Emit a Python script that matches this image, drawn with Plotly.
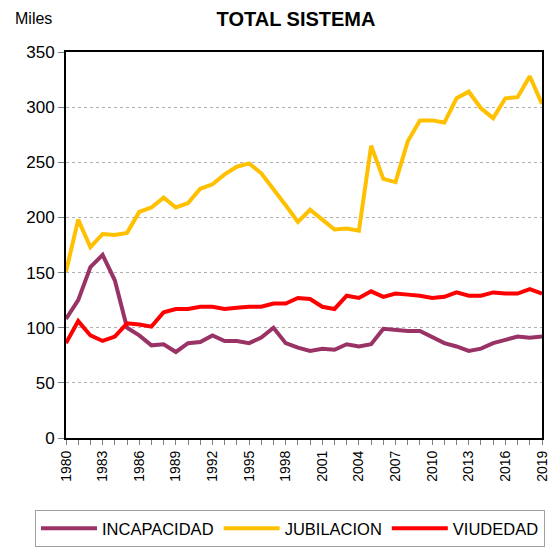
import plotly.graph_objects as go

years = list(range(1980, 2020))

incapacidad = [108, 125, 155, 166, 143, 100, 93, 84, 85, 78,
               86, 87, 93, 88, 88, 86, 91, 100, 86, 82,
               79, 81, 80, 85, 83, 85, 99, 98, 97, 97,
               91, 86, 83, 79, 81, 86, 89, 92, 91, 92]

jubilacion = [151, 198, 173, 185, 184, 186, 205, 209, 218, 209,
              213, 226, 230, 239, 246, 249, 240, 226, 211, 196,
              207, 198, 189, 190, 188, 265, 235, 232, 269, 288,
              288, 286, 308, 314, 299, 290, 308, 309, 328, 303]

viudedad = [86, 106, 93, 88, 92, 104, 103, 101, 114, 117,
            117, 119, 119, 117, 118, 119, 119, 122, 122, 127,
            126, 119, 117, 129, 127, 133, 128, 131, 130, 129,
            127, 128, 132, 129, 129, 132, 131, 131, 135, 131]

series = [
    ("INCAPACIDAD", incapacidad, "#993366"),
    ("JUBILACION", jubilacion, "#FFC000"),
    ("VIUDEDAD", viudedad, "#FF0000"),
]

fig = go.Figure()
for name, vals, color in series:
    fig.add_trace(go.Scatter(x=years, y=vals, name=name, mode="lines",
                             line=dict(color=color, width=4)))

font_family = "Liberation Sans, Arial, sans-serif"
W, H = 549, 556
L, R, T, B = 66, 7, 52, 118
plot_w = W - L - R
plot_h = H - T - B

fig.update_layout(
    width=W, height=H,
    margin=dict(l=L, r=R, t=T, b=B, autoexpand=False),
    paper_bgcolor="white", plot_bgcolor="white",
    font=dict(family=font_family, color="black"),
    title=dict(text="<b>TOTAL SISTEMA</b>", x=296 / W, xanchor="center",
               xref="container", y=1 - 19 / H, yanchor="middle", yref="container",
               font=dict(size=20)),
    showlegend=True,
    legend=dict(orientation="h", xref="paper", yref="paper",
                x=(35 - L) / plot_w, xanchor="left",
                y=(438 - 510) / plot_h, yanchor="top",
                bordercolor="#A0A0A0", borderwidth=1, font=dict(size=16.5),
                itemwidth=56, tracegroupgap=0),
    annotations=[dict(text="Miles", x=(13 - L) / plot_w, xanchor="left",
                      y=(438 - 19) / plot_h, yanchor="middle",
                      xref="paper", yref="paper",
                      showarrow=False, font=dict(size=16))],
)

fig.update_xaxes(
    range=[1980, 2019], tickmode="linear", tick0=1980, dtick=3,
    tickangle=-90, tickfont=dict(size=14), ticklabeloverflow="allow",
    ticks="outside", ticklen=5, tickcolor="#808080",
    minor=dict(dtick=1, ticks="outside", ticklen=5, tickcolor="#808080", showgrid=False),
    showline=True, linecolor="black", linewidth=2, mirror=True,
    showgrid=False, zeroline=False,
)
fig.update_yaxes(
    range=[0, 350], tickmode="linear", tick0=0, dtick=50,
    tickfont=dict(size=17),
    ticks="outside", ticklen=6, tickcolor="#808080",
    showline=True, linecolor="black", linewidth=2, mirror=True,
    showgrid=True, gridcolor="#B0B0B0", griddash="dot", gridwidth=1,
    zeroline=False,
)

fig.write_html("out.html", config={"displayModeBar": False},
               post_script="document.body.style.margin='0px';")
